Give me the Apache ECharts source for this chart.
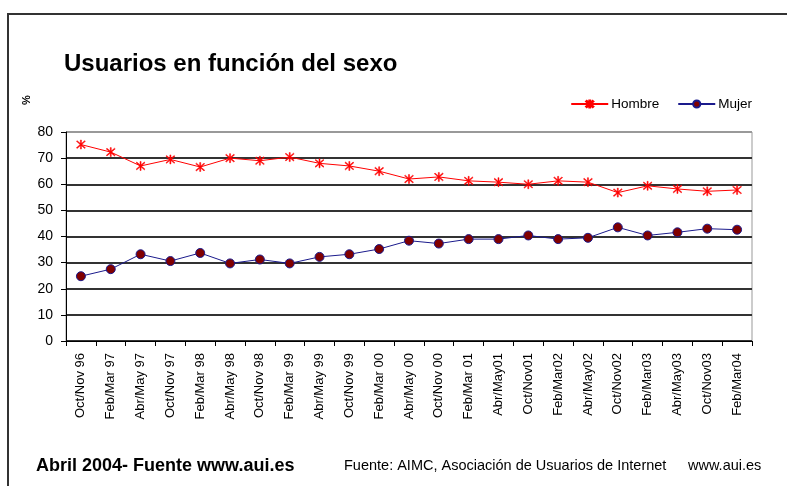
<!DOCTYPE html>
<html>
<head>
<meta charset="utf-8">
<script src="https://cdn.jsdelivr.net/npm/echarts@6/dist/echarts.min.js"></script>
<style>
  html, body { margin: 0; padding: 0; background: #fff; }
  #main { width: 787px; height: 486px; }
</style>
</head>
<body>
<div id="main"></div>
<script>
const categories = ['Oct/Nov 96', 'Feb/Mar 97', 'Abr/May 97', 'Oct/Nov 97', 'Feb/Mar 98', 'Abr/May 98',
  'Oct/Nov 98', 'Feb/Mar 99', 'Abr/May 99', 'Oct/Nov 99', 'Feb/Mar 00', 'Abr/May 00', 'Oct/Nov 00',
  'Feb/Mar 01', 'Abr/May01', 'Oct/Nov01', 'Feb/Mar02', 'Abr/May02', 'Oct/Nov02', 'Feb/Mar03',
  'Abr/May03', 'Oct/Nov03', 'Feb/Mar04']
const hombre = [75.2, 72.3, 67, 69.5, 66.6, 70, 69, 70.4, 68, 67, 65, 62, 62.8, 61.3, 60.8, 60,
  61.3, 60.8, 56.8, 59.4, 58.2, 57.3, 57.8]
const mujer = [24.8, 27.5, 33.2, 30.6, 33.7, 29.7, 31.2, 29.7, 32.2, 33.2, 35.2, 38.4, 37.3, 39, 39,
  40.4, 39, 39.5, 43.5, 40.4, 41.6, 43, 42.6]

const font = '"Liberation Sans", Arial, sans-serif'
// asterisk marker
const star = 'path://M4.5,0L5.5,0L5.5,10L4.5,10Z M0.7,1.4L1.4,0.7L9.3,8.6L8.6,9.3Z M8.6,0.7L9.3,1.4L1.4,9.3L0.7,8.6Z'

const myChart = echarts.init(document.getElementById('main'))
const option = {
  animation: false,
  textStyle: { fontFamily: font },
  title: {
    text: 'Usuarios en función del sexo',
    left: 59, top: 47,
    textStyle: { fontSize: 24, fontWeight: 'bold', color: '#000', fontFamily: font }
  },
  legend: {
    right: 30, top: 92,
    itemWidth: 37, itemHeight: 9, itemGap: 18,
    textStyle: { fontSize: 13.5, color: '#000', fontFamily: font, padding: [0, 0, 0, -2] },
    data: ['Hombre', 'Mujer']
  },
  grid: { left: 66, right: 35, top: 132, bottom: 145, show: true, borderColor: '#999', borderWidth: 1 },
  xAxis: {
    type: 'category',
    data: categories,
    boundaryGap: true,
    axisLine: { lineStyle: { color: '#000', width: 1 } },
    axisTick: { show: true, length: 5, lineStyle: { color: '#000' } },
    axisLabel: { rotate: 90, fontSize: 13, color: '#000', margin: 12, interval: 0 }
  },
  yAxis: {
    type: 'value',
    min: 0, max: 80, interval: 10,
    axisLine: { show: true, lineStyle: { color: '#000' } },
    axisTick: { show: true, length: 5, lineStyle: { color: '#000' } },
    axisLabel: { fontSize: 14, color: '#000', margin: 13 },
    splitLine: { lineStyle: { color: ['#333', '#333', '#333', '#333', '#333', '#333', '#333', '#333', '#999'], width: 2 } }
  },
  series: [
    {
      name: 'Hombre', type: 'line', data: hombre,
      symbol: star, symbolSize: 9,
      lineStyle: { color: '#ff0000', width: 1 },
      itemStyle: { color: '#ff0000', borderColor: '#ff0000', borderWidth: 0.5 }
    },
    {
      name: 'Mujer', type: 'line', data: mujer,
      symbol: 'circle', symbolSize: 9,
      lineStyle: { color: '#1a1a8c', width: 1 },
      itemStyle: { color: '#800000', borderColor: '#1a1a8c', borderWidth: 1 }
    }
  ],
  graphic: [
    { type: 'rect', shape: { x: 8, y: 14, width: 900, height: 600 }, style: { fill: 'none', stroke: '#333', lineWidth: 2 }, silent: true },
    { type: 'text', x: 21, y: 105, rotation: Math.PI / 2, style: { text: '%', fontSize: 11, fill: '#000', fontFamily: font, fontWeight: 'bold' } },
    { type: 'text', left: 36, top: 457, style: { text: 'Abril 2004- Fuente www.aui.es', fontSize: 18, fontWeight: 'bold', fill: '#000', fontFamily: font } },
    { type: 'text', left: 344, top: 458, style: { text: 'Fuente: AIMC, Asociación de Usuarios de Internet', fontSize: 14.5, fill: '#000', fontFamily: font } },
    { type: 'text', left: 688, top: 458, style: { text: 'www.aui.es', fontSize: 14.5, fill: '#000', fontFamily: font } }
  ]
}
option && myChart.setOption(option)
</script>
</body>
</html>
